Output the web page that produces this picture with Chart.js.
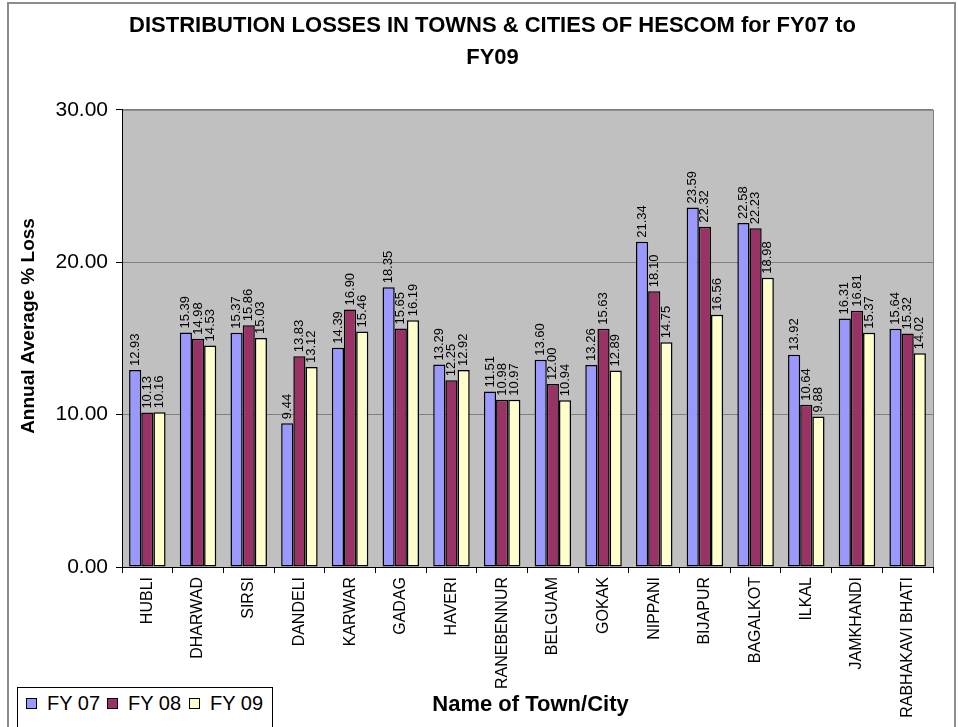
<!DOCTYPE html>
<html>
<head>
<meta charset="utf-8">
<script src="https://cdn.jsdelivr.net/npm/chart.js@4/dist/chart.umd.min.js"></script>
<style>
  html, body { margin: 0; padding: 0; background: #fff; }
  #wrap { position: relative; width: 958px; height: 727px; overflow: hidden; }
  #frame { position: absolute; left: 7px; top: 2px; width: 945px; height: 740px; border: 2px solid #8c8c8c; }
  #legend {
    position: absolute; left: 17px; top: 687px; width: 256px; height: 50px;
    border: 1px solid #000; background: #fff;
    font: 20px "Liberation Sans", Arial, sans-serif; color: #000;
    box-sizing: border-box;
  }
  .item { position: absolute; top: 4px; display: flex; align-items: center; }
  .sw { width: 9px; height: 9px; border: 1.5px solid #000; margin-right: 10px; }
</style>
</head>
<body>
<div id="wrap">
  <div id="frame"></div>
  <canvas id="lossChart" width="958" height="727"></canvas>
  <div id="legend"></div>
</div>
<script>
const TOWNS = ['HUBLI', 'DHARWAD', 'SIRSI', 'DANDELI', 'KARWAR', 'GADAG', 'HAVERI', 'RANEBENNUR',
               'BELGUAM', 'GOKAK', 'NIPPANI', 'BIJAPUR', 'BAGALKOT', 'ILKAL', 'JAMKHANDI', 'RABHAKAVI BHATI'];

const FY07 = [12.93, 15.39, 15.37, 9.44, 14.39, 18.35, 13.29, 11.51, 13.60, 13.26, 21.34, 23.59, 22.58, 13.92, 16.31, 15.64];
const FY08 = [10.13, 14.98, 15.86, 13.83, 16.90, 15.65, 12.25, 10.98, 12.00, 15.63, 18.10, 22.32, 22.23, 10.64, 16.81, 15.32];
const FY09 = [10.16, 14.53, 15.03, 13.12, 15.46, 16.19, 12.92, 10.97, 10.94, 12.89, 14.75, 16.56, 18.98, 9.88, 15.37, 14.02];

const SERIES_NAMES = ['FY 07', 'FY 08', 'FY 09'];
const SERIES_COLORS = ['#9999FF', '#993366', '#FFFFCC'];

const Y_TICKS = [0, 10, 20, 30];

const FONT = '"Liberation Sans", Arial, sans-serif';

const plotBackground = {
    id: 'plotBackground',
    beforeDraw(chart) {
        const a = chart.chartArea;
        const ctx = chart.ctx;
        ctx.save();
        ctx.fillStyle = '#C0C0C0';
        ctx.fillRect(a.left, a.top, a.right - a.left, a.bottom - a.top);
        ctx.strokeStyle = '#808080';
        ctx.lineWidth = 1;
        ctx.strokeRect(a.left + 0.5, a.top + 0.5, a.right - a.left, a.bottom - a.top);
        ctx.restore();
    }
};

const barLabels = {
    id: 'barLabels',
    afterDatasetsDraw(chart) {
        const ctx = chart.ctx;
        ctx.save();
        ctx.font = '13px ' + FONT;
        ctx.fillStyle = '#000';
        ctx.textAlign = 'left';
        ctx.textBaseline = 'middle';
        chart.data.datasets.forEach((ds, i) => {
            chart.getDatasetMeta(i).data.forEach((bar, j) => {
                ctx.save();
                ctx.translate(bar.x, bar.y - 4);
                ctx.rotate(-Math.PI / 2);
                ctx.fillText(ds.data[j].toFixed(2), 0, 0);
                ctx.restore();
            });
        });
        ctx.restore();
    }
};

// axis titles drawn by hand so they sit where the original puts them
const axisTitles = {
    id: 'axisTitles',
    afterDraw(chart) {
        const a = chart.chartArea;
        const ctx = chart.ctx;
        ctx.save();
        ctx.font = 'bold 22px ' + FONT;
        ctx.fillStyle = '#000';
        ctx.textAlign = 'center';
        ctx.textBaseline = 'middle';
        ctx.fillText('Name of Town/City', (a.left + a.right) / 2 + 3, 705);

        ctx.font = 'bold 19px ' + FONT;
        ctx.translate(29, 326);
        ctx.rotate(-Math.PI / 2);
        ctx.fillText('Annual Average % Loss', 0, 0);
        ctx.restore();
    }
};

function buildLegend() {
    const box = document.getElementById('legend');
    const lefts = [8, 89, 171];
    SERIES_NAMES.forEach((name, i) => {
        const item = document.createElement('div');
        item.className = 'item';
        item.style.left = lefts[i] + 'px';
        const sw = document.createElement('div');
        sw.className = 'sw';
        sw.style.background = SERIES_COLORS[i];
        const txt = document.createElement('span');
        txt.textContent = name;
        item.appendChild(sw);
        item.appendChild(txt);
        box.appendChild(item);
    });
}

function setChart() {
    const values = [FY07, FY08, FY09];
    const datasets = SERIES_NAMES.map((name, i) => ({
        label: name,
        data: values[i],
        backgroundColor: SERIES_COLORS[i],
        borderColor: '#000',
        borderWidth: 1.5,
        borderSkipped: false,
        categoryPercentage: 0.72,
        barPercentage: 1.0
    }));

    new Chart(document.getElementById('lossChart'), {
        type: 'bar',
        data: { labels: TOWNS, datasets: datasets },
        plugins: [plotBackground, barLabels, axisTitles],
        options: {
            responsive: false,
            animation: false,
            // left padding pushes the title centre right, y scale width keeps the plot at x=122
            layout: { padding: { left: 52, right: 25, top: 0, bottom: 0 } },
            plugins: {
                legend: { display: false },
                tooltip: { enabled: false },
                title: {
                    display: true,
                    text: ['DISTRIBUTION LOSSES IN TOWNS & CITIES OF HESCOM for FY07 to', 'FY09'],
                    color: '#000',
                    font: { family: FONT, size: 22, weight: 'bold', lineHeight: 1.45 },
                    padding: { top: 10, bottom: 36 }
                }
            },
            scales: {
                x: {
                    afterFit(scale) { scale.height = 160; },
                    grid: { display: true, drawOnChartArea: false, drawTicks: true, tickLength: 6, offset: true, color: '#000' },
                    border: { color: '#000', width: 1 },
                    ticks: {
                        autoSkip: false, maxRotation: 90, minRotation: 90,
                        color: '#000', padding: 4,
                        font: { family: FONT, size: 16 }
                    }
                },
                y: {
                    min: 0, max: 30,
                    afterFit(scale) { scale.width = 70; },
                    afterBuildTicks(scale) { scale.ticks = Y_TICKS.map(v => ({ value: v })); },
                    grid: { color: '#808080', tickLength: 6, tickColor: '#000' },
                    border: { color: '#000', width: 1 },
                    ticks: {
                        color: '#000', padding: 8,
                        font: { family: FONT, size: 21 },
                        callback: v => Number(v).toFixed(2)
                    }
                }
            }
        }
    });
}

buildLegend();
setChart();
</script>
</body>
</html>
